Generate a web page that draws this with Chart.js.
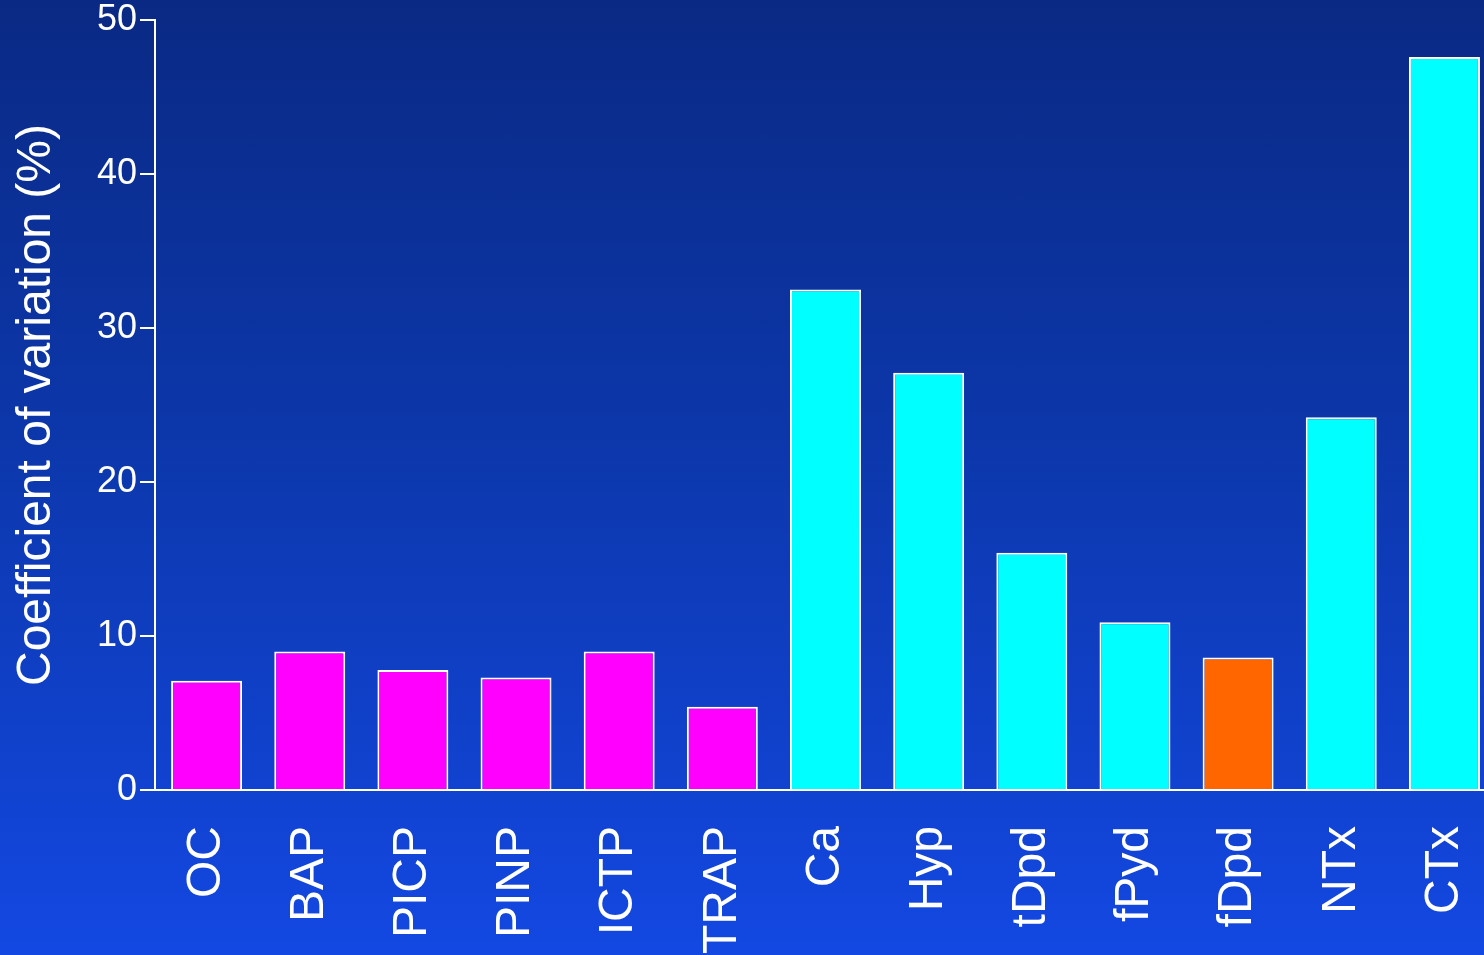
<!DOCTYPE html>
<html>
<head>
<meta charset="utf-8">
<script src="https://cdn.jsdelivr.net/npm/chart.js@4/dist/chart.umd.min.js"></script>
<style>
	html, body {
		margin: 0;
		padding: 0;
		width: 1484px;
		height: 955px;
		overflow: hidden;
		background: linear-gradient(to bottom, #0a2984 0%, #0c37aa 45%, #1348e2 100%);
	}
	#wrap {
		position: absolute;
		left: 0;
		top: 0;
		width: 1496px;
		height: 955px;
	}
</style>
</head>
<body>
<div id="wrap"><canvas id="chart"></canvas></div>
<script>
const markers = ["OC", "BAP", "PICP", "PINP", "ICTP", "TRAP", "Ca", "Hyp", "tDpd", "fPyd", "fDpd", "NTx", "CTx"];
const cvValues = [7.1, 9.0, 7.8, 7.3, 9.0, 5.4, 32.5, 27.1, 15.4, 10.9, 8.6, 24.2, 47.6];
const barColors = ["#ff00ff", "#ff00ff", "#ff00ff", "#ff00ff", "#ff00ff", "#ff00ff",
	"#00ffff", "#00ffff", "#00ffff", "#00ffff", "#ff6600", "#00ffff", "#00ffff"];
const yTicks = [0, 10, 20, 30, 40, 50];

const fontFamily = "Arial, 'Liberation Sans', sans-serif";

const chart = new Chart(document.getElementById("chart"), {
	type: "bar",
	data: {
		labels: markers,
		datasets: [{
			data: cvValues,
			backgroundColor: barColors,
			borderColor: "#ffffff",
			borderWidth: 2,
			borderSkipped: "bottom",
			barPercentage: 0.688,
			categoryPercentage: 1
		}]
	},
	options: {
		responsive: true,
		maintainAspectRatio: false,
		animation: false,
		layout: {padding: {top: 20, right: 0, bottom: 0, left: 0}},
		plugins: {
			legend: {display: false},
			tooltip: {enabled: false}
		},
		scales: {
			x: {
				grid: {display: false, drawTicks: false},
				border: {display: true, color: "#ffffff", width: 2},
				ticks: {
					color: "#ffffff",
					font: {family: fontFamily, size: 48},
					minRotation: 90,
					maxRotation: 90,
					autoSkip: false,
					padding: 36
				},
				afterFit: (scale) => {
					scale.height = 165;
					scale.paddingLeft = 0;
					scale.paddingRight = 0;
				}
			},
			y: {
				min: 0,
				max: 50,
				afterBuildTicks: (scale) => { scale.ticks = yTicks.map(v => ({value: v})); },
				grid: {
					drawOnChartArea: false,
					drawTicks: true,
					tickLength: 15,
					color: "#ffffff",
					lineWidth: 2
				},
				border: {display: true, color: "#ffffff", width: 2},
				ticks: {
					color: "#ffffff",
					font: {family: fontFamily, size: 36},
					padding: 3
				},
				title: {
					display: true,
					text: "Coefficient of variation (%)",
					color: "#ffffff",
					font: {family: fontFamily, size: 48},
					padding: {top: 8, bottom: 0}
				},
				afterFit: (scale) => {
					scale.width = 155;
					scale.paddingTop = 0;
					scale.paddingBottom = 0;
				}
			}
		}
	}
});
</script>
</body>
</html>
